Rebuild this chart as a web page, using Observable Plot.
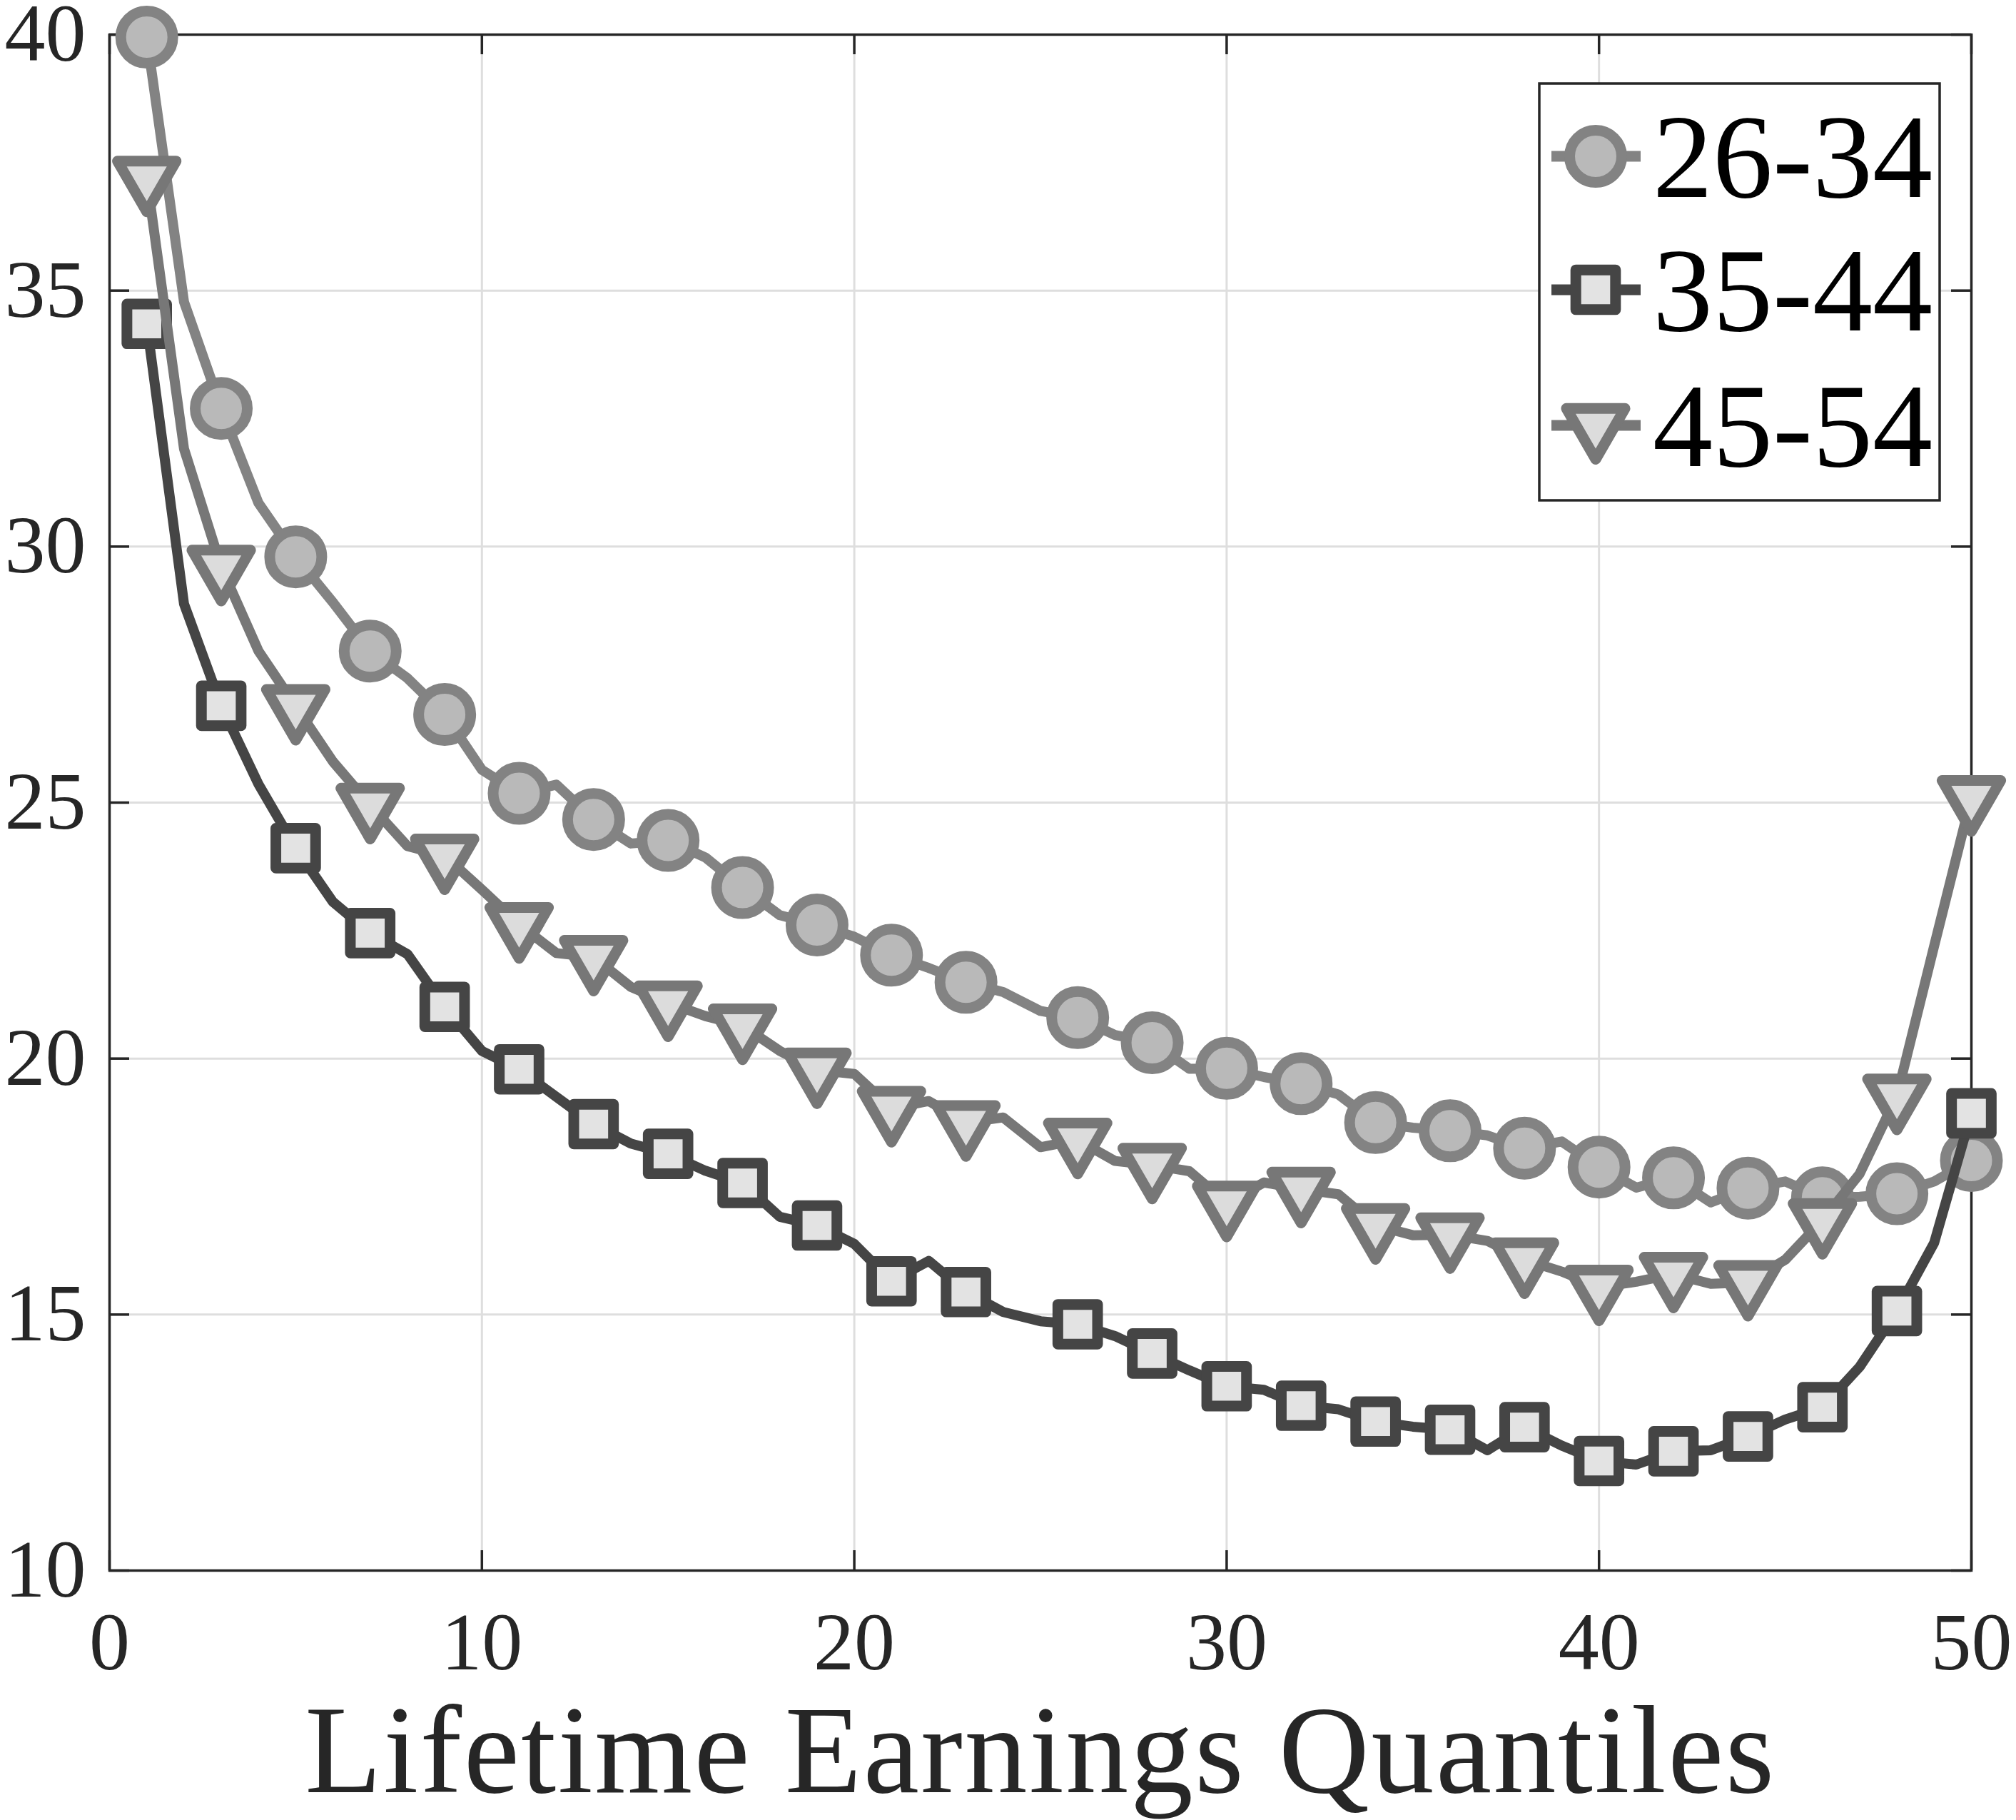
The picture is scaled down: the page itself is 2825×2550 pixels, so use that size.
<!DOCTYPE html>
<html><head><meta charset="utf-8">
<script src="https://cdn.jsdelivr.net/npm/d3@7"></script>
<script src="https://cdn.jsdelivr.net/npm/@observablehq/plot@0.6"></script>
<style>
html,body{margin:0;padding:0;background:#fff;}
#wrap{position:relative;width:2825px;height:2550px;}
</style></head><body><div id="wrap"></div>
<script>
const quantiles = [1,2,3,4,5,6,7,8,9,10,11,12,13,14,15,16,17,18,19,20,21,22,23,24,25,
  26,27,28,29,30,31,32,33,34,35,36,37,38,39,40,41,42,43,44,45,46,47,48,49,50];
const age26_34 = [39.95,34.78,32.70,30.85,29.80,28.91,27.96,27.43,26.72,25.64,
  25.18,25.35,24.67,24.20,24.26,23.93,23.34,22.80,22.61,22.38,
  22.02,21.77,21.49,21.30,20.93,20.80,20.46,20.31,19.80,19.81,
  19.64,19.51,19.30,18.75,18.65,18.59,18.50,18.25,18.38,17.88,
  17.48,17.67,17.19,17.47,17.60,17.28,17.30,17.36,17.60,18.01];
const age35_44 = [34.35,28.88,26.89,25.36,24.11,23.06,22.45,22.04,21.01,20.15,
  19.79,19.25,18.72,18.34,18.14,17.81,17.57,16.91,16.74,16.38,
  15.65,16.05,15.44,15.05,14.87,14.81,14.58,14.24,13.91,13.60,
  13.53,13.22,13.15,12.91,12.81,12.75,12.35,12.80,12.44,12.14,
  12.07,12.33,12.35,12.62,12.95,13.19,13.98,15.07,16.40,18.93];
const age45_54 = [37.20,31.91,29.60,27.96,26.88,25.80,24.95,24.15,23.96,23.30,
  22.62,22.06,21.98,21.40,21.09,20.83,20.64,20.15,19.78,19.70,
  19.03,19.17,18.75,18.85,18.27,18.41,18.00,17.92,17.80,17.18,
  17.58,17.45,17.35,16.74,16.55,16.56,16.44,16.07,15.84,15.54,
  15.64,15.79,15.60,15.63,16.07,16.84,17.75,19.27,22.20,25.10];
const markerQuantiles = [1,3,5,7,9,11,13,15,17,19,21,23,26,28,30,32,34,36,38,40,42,44,46,48,50];
const seriesNames = ["26-34","35-44","45-54"];
const xTicks = [0,10,20,30,40,50];
const yTicks = [10,15,20,25,30,35,40];
const xLabel = "Lifetime Earnings Quantiles";

const seriesValues = [age26_34, age35_44, age45_54];
const looks = [
  {stroke:"#838383", fill:"#b9b9b9", symbol:"circle", r:36.5, rotate:0},
  {stroke:"#454545", fill:"#e3e3e3", symbol:"square", r:31.4, rotate:0},
  {stroke:"#777777", fill:"#dcdcdc", symbol:"triangle", r:30.5, rotate:180}
];

const W = 2825, H = 2550, mL = 153, mR = 63, mT = 48, mB = 350;
const pw = W - mL - mR, ph = H - mT - mB;
const tickLen = 28, axisColor = "#262626";
const FONT = "'Liberation Serif', 'Times New Roman', serif";

const marks = [
  Plot.gridX(xTicks, {stroke:"#dedede", strokeOpacity:1, strokeWidth:3}),
  Plot.gridY(yTicks, {stroke:"#dedede", strokeOpacity:1, strokeWidth:3}),
  Plot.frame({stroke:axisColor, strokeWidth:3.5}),
  Plot.tickX(xTicks, {x:d=>d, insetTop: ph - tickLen, stroke:axisColor, strokeWidth:3.5}),
  Plot.tickX(xTicks, {x:d=>d, insetBottom: ph - tickLen, stroke:axisColor, strokeWidth:3.5}),
  Plot.tickY(yTicks, {y:d=>d, insetRight: pw - tickLen, stroke:axisColor, strokeWidth:3.5}),
  Plot.tickY(yTicks, {y:d=>d, insetLeft: pw - tickLen, stroke:axisColor, strokeWidth:3.5}),
  Plot.axisX({ticks:xTicks, tickSize:0, tickPadding:58, fontSize:114, fill:axisColor, label:null, fontFamily:FONT}),
  Plot.axisY({ticks:yTicks, tickSize:0, tickPadding:33, fontSize:114, fill:axisColor, label:null, fontFamily:FONT}),
  Plot.text([xLabel], {frameAnchor:"bottom", lineAnchor:"bottom", dy:310, fontSize:176, fill:axisColor, fontFamily:FONT})
];

seriesNames.forEach((name, i) => {
  const vals = seriesValues[i];
  const lineData = quantiles.map((q, j) => ({q, v: vals[j], s: name}));
  const dotData = lineData.filter(d => markerQuantiles.includes(d.q));
  const lk = looks[i];
  marks.push(Plot.line(lineData, {x:"q", y:"v", stroke:lk.stroke, strokeWidth:14, strokeLinejoin:"round"}));
  marks.push(Plot.dot(dotData, {x:"q", y:"v", symbol:lk.symbol, r:lk.r, rotate:lk.rotate,
    fill:lk.fill, stroke:lk.stroke, strokeWidth:15, strokeLinejoin:"round"}));
});

const chart = Plot.plot({
  width: W, height: H,
  marginLeft: mL, marginRight: mR, marginTop: mT, marginBottom: mB,
  x: {domain:[0,50]},
  y: {domain:[10,40]},
  style: {background:"#fff", fontFamily: FONT, fontSize:"114px", overflow:"visible"},
  marks
});
document.getElementById("wrap").appendChild(chart);

// widen the x-axis title slightly to match the reference's letter spacing
d3.select(chart).selectAll("text").filter(function(){ return this.textContent === xLabel; })
  .style("letter-spacing", "2.5px");

// Legend (overlay)
const legLeft = 2155, legTop = 115;
const leg = d3.select("#wrap").append("svg")
  .style("position","absolute").style("left", legLeft+"px").style("top", legTop+"px")
  .attr("width", 568).attr("height", 590);
leg.append("rect").attr("x",2).attr("y",2).attr("width",561).attr("height",584)
  .attr("fill","#fff").attr("stroke",axisColor).attr("stroke-width",3.5);
const rowY = [104, 291, 481];
const symbolTypes = {circle: d3.symbolCircle, square: d3.symbolSquare, triangle: d3.symbolTriangle};
seriesNames.forEach((name, i) => {
  const lk = looks[i];
  const y = rowY[i];
  leg.append("line").attr("x1",19).attr("x2",144).attr("y1",y).attr("y2",y)
    .attr("stroke",lk.stroke).attr("stroke-width",15);
  leg.append("path")
    .attr("d", d3.symbol(symbolTypes[lk.symbol], Math.PI*lk.r*lk.r)())
    .attr("transform", `translate(81,${y}) rotate(${lk.rotate})`)
    .attr("fill", lk.fill).attr("stroke", lk.stroke).attr("stroke-width",15).attr("stroke-linejoin","round");
  leg.append("text").attr("x",161).attr("y",y).attr("dy","0.34em")
    .attr("font-family", FONT).attr("font-size",168).attr("fill","#000").text(name);
});
</script>
</body></html>
